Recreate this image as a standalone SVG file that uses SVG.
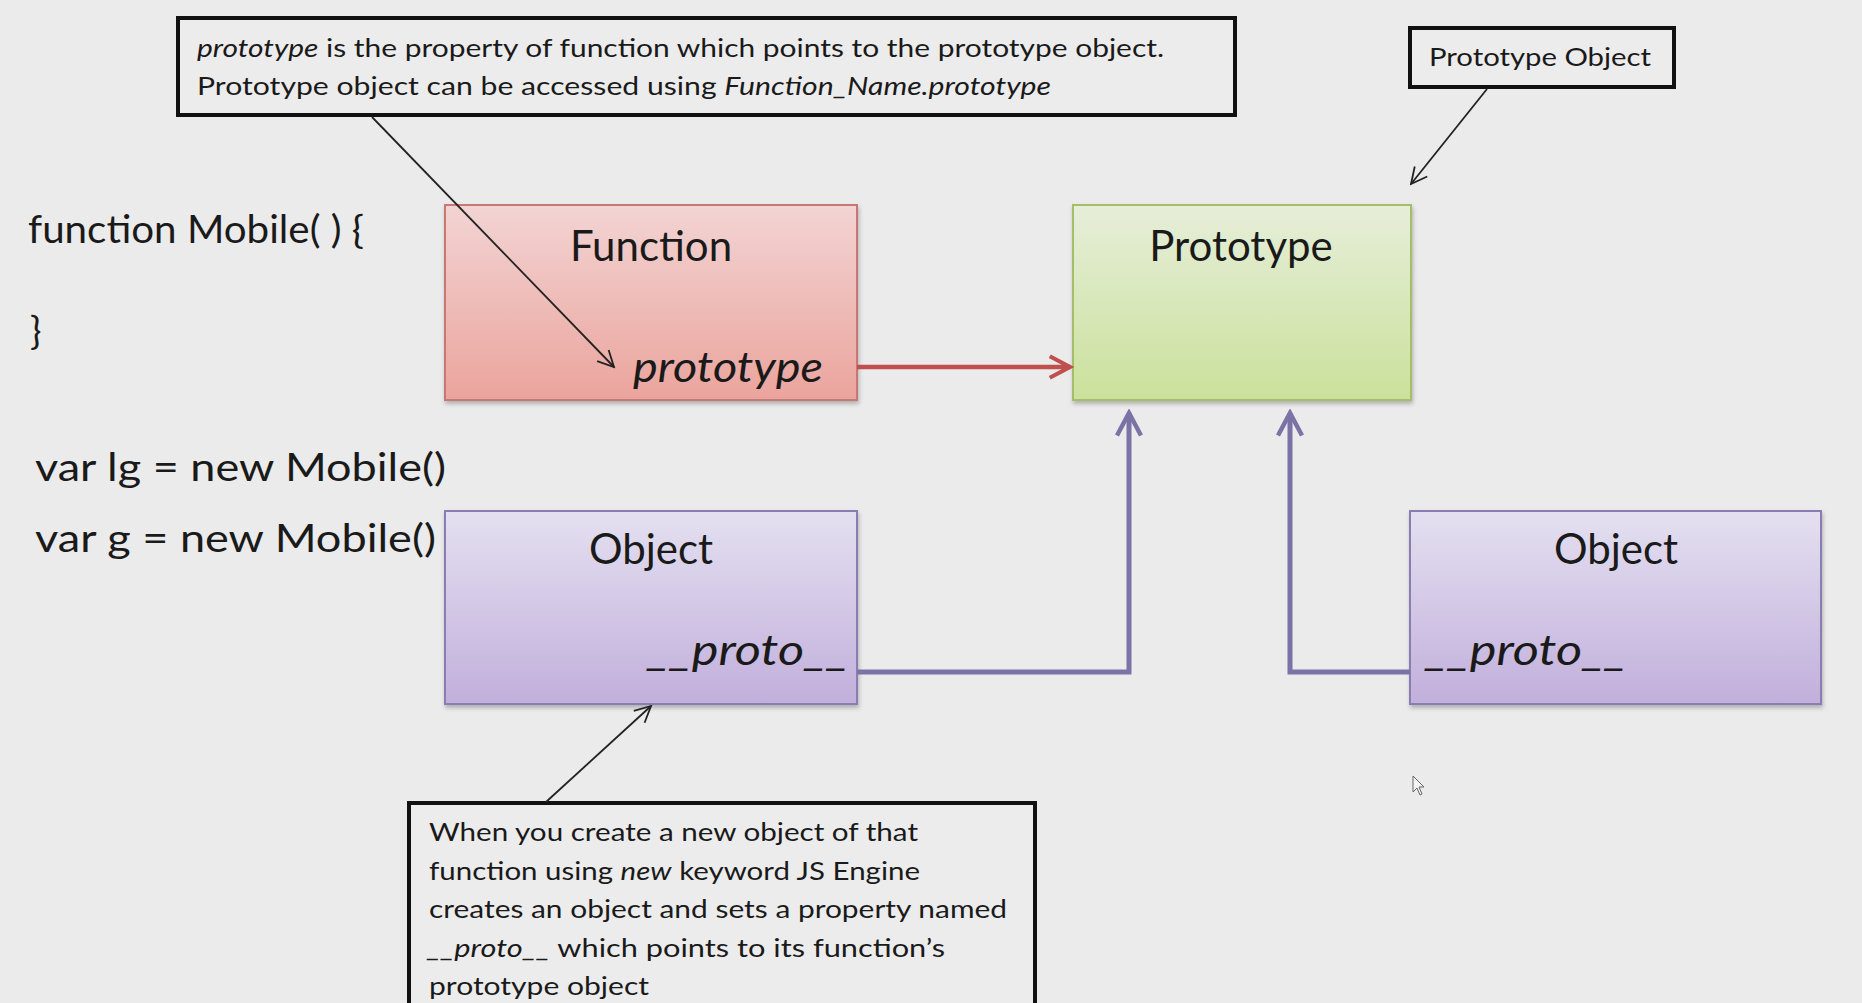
<svg xmlns="http://www.w3.org/2000/svg" width="1862" height="1003" viewBox="0 0 1862 1003">
<defs>
<linearGradient id="gPink" x1="0" y1="0" x2="0" y2="1"><stop offset="0" stop-color="#f2d4d3"/><stop offset="1" stop-color="#eba49d"/></linearGradient>
<linearGradient id="gGreen" x1="0" y1="0" x2="0" y2="1"><stop offset="0" stop-color="#e6eed9"/><stop offset="1" stop-color="#cbe19b"/></linearGradient>
<linearGradient id="gPurple" x1="0" y1="0" x2="0" y2="1"><stop offset="0" stop-color="#e4e0f0"/><stop offset="1" stop-color="#c2afdc"/></linearGradient>
<filter id="sh" x="-5%" y="-5%" width="110%" height="115%"><feDropShadow dx="1" dy="3" stdDeviation="2" flood-color="#000" flood-opacity="0.25"/></filter>
<marker id="aBlack" viewBox="0 0 20 20" refX="18" refY="10" markerWidth="20" markerHeight="20" markerUnits="userSpaceOnUse" orient="auto"><path d="M2,2 L18,10 L2,18" fill="none" stroke="#222" stroke-width="1.8"/></marker>
<marker id="aRed" viewBox="0 0 10 10" refX="8.5" refY="5" markerWidth="6" markerHeight="6" orient="auto"><path d="M1,1 L8.5,5 L1,9" fill="none" stroke="#c0504d" stroke-width="1.5" stroke-linejoin="miter"/></marker>
<marker id="aPurple" viewBox="0 0 10 10" refX="8.5" refY="5" markerWidth="6" markerHeight="6" orient="auto"><path d="M1,1 L8.5,5 L1,9" fill="none" stroke="#7b72a6" stroke-width="1.5"/></marker>
<style>
text{font-family:Lato,"Open Sans","Liberation Sans",sans-serif;fill:#1a1a1a}
.it{font-style:italic}
.callout{fill:#ececec;stroke:#111;stroke-width:4}
.title{font-size:42px}
.code{font-size:38px}
.note{font-size:25px}
.thin{stroke:#222;stroke-width:1.8;fill:none}
</style>
</defs>
<rect width="1862" height="1003" fill="#ebebeb"/>

<g id="code">
<text class="code" x="28" y="243" textLength="336" lengthAdjust="spacingAndGlyphs">function Mobile( ) {</text>
<text class="code" x="30" y="344">}</text>
<text class="code" x="35" y="481" textLength="411" lengthAdjust="spacingAndGlyphs">var lg = new Mobile()</text>
<text class="code" x="35" y="552" textLength="401" lengthAdjust="spacingAndGlyphs">var g = new Mobile()</text>
</g>

<g id="node-function">
<rect x="445" y="205" width="412" height="195" fill="url(#gPink)" stroke="#c87873" stroke-width="2" filter="url(#sh)"/>
<text class="title" x="651" y="261" text-anchor="middle">Function</text>
<text class="title it" x="633" y="382" font-size="44" textLength="190" lengthAdjust="spacingAndGlyphs">prototype</text>
</g>

<g id="node-prototype">
<rect x="1073" y="205" width="338" height="195" fill="url(#gGreen)" stroke="#a5be6a" stroke-width="2" filter="url(#sh)"/>
<text class="title" x="1241" y="261" text-anchor="middle">Prototype</text>
</g>

<g id="node-object1">
<rect x="445" y="511" width="412" height="193" fill="url(#gPurple)" stroke="#8a7db2" stroke-width="2" filter="url(#sh)"/>
<text class="title" x="651" y="564" text-anchor="middle">Object</text>
<text class="title it" x="647" y="665" font-size="44" textLength="202" lengthAdjust="spacingAndGlyphs">__proto__</text>
</g>

<g id="node-object2">
<rect x="1410" y="511" width="411" height="193" fill="url(#gPurple)" stroke="#8a7db2" stroke-width="2" filter="url(#sh)"/>
<text class="title" x="1616" y="564" text-anchor="middle">Object</text>
<text class="title it" x="1425" y="665" font-size="44" textLength="202" lengthAdjust="spacingAndGlyphs">__proto__</text>
</g>

<g id="callout-top">
<rect class="callout" x="178" y="18" width="1057" height="97"/>
<text class="note" x="197" y="57" textLength="967" lengthAdjust="spacingAndGlyphs"><tspan class="it">prototype</tspan> is the property of function which points to the prototype object.</text>
<text class="note" x="197" y="95" textLength="854" lengthAdjust="spacingAndGlyphs">Prototype object can be accessed using <tspan class="it">Function_Name.prototype</tspan></text>
</g>

<g id="callout-proto-object">
<rect class="callout" x="1410" y="28" width="264" height="59"/>
<text class="note" x="1429" y="66" textLength="222" lengthAdjust="spacingAndGlyphs">Prototype Object</text>
</g>

<g id="callout-bottom">
<rect class="callout" x="409" y="803" width="626" height="220"/>
<text class="note" x="429" y="841" textLength="489" lengthAdjust="spacingAndGlyphs">When you create a new object of that</text>
<text class="note" x="429" y="880" textLength="491" lengthAdjust="spacingAndGlyphs">function using <tspan class="it">new</tspan> keyword JS Engine</text>
<text class="note" x="429" y="918" textLength="578" lengthAdjust="spacingAndGlyphs">creates an object and sets a property named</text>
<text class="note" x="427" y="957" textLength="518" lengthAdjust="spacingAndGlyphs"><tspan class="it">__proto__</tspan> which points to its function’s</text>
<text class="note" x="429" y="995" textLength="220" lengthAdjust="spacingAndGlyphs">prototype object</text>
</g>

<g id="connectors">
<line x1="857" y1="367" x2="1070" y2="367" stroke="#c0504d" stroke-width="4.5" marker-end="url(#aRed)"/>
<polyline points="857,672 1129,672 1129,413" fill="none" stroke="#7b72a6" stroke-width="5" marker-end="url(#aPurple)"/>
<polyline points="1410,672 1290,672 1290,413" fill="none" stroke="#7b72a6" stroke-width="5" marker-end="url(#aPurple)"/>
<line class="thin" x1="372" y1="117" x2="614" y2="367" marker-end="url(#aBlack)"/>
<line class="thin" x1="1487" y1="89" x2="1411" y2="184" marker-end="url(#aBlack)"/>
<line class="thin" x1="546" y1="802" x2="651" y2="706" marker-end="url(#aBlack)"/>
</g>

<g id="cursor">
<path d="M1413,776 L1413,792 L1417,788 L1420,795 L1422,794 L1419,787 L1424,787 Z" fill="#f4f4f4" stroke="#666" stroke-width="1"/>
</g>
</svg>
